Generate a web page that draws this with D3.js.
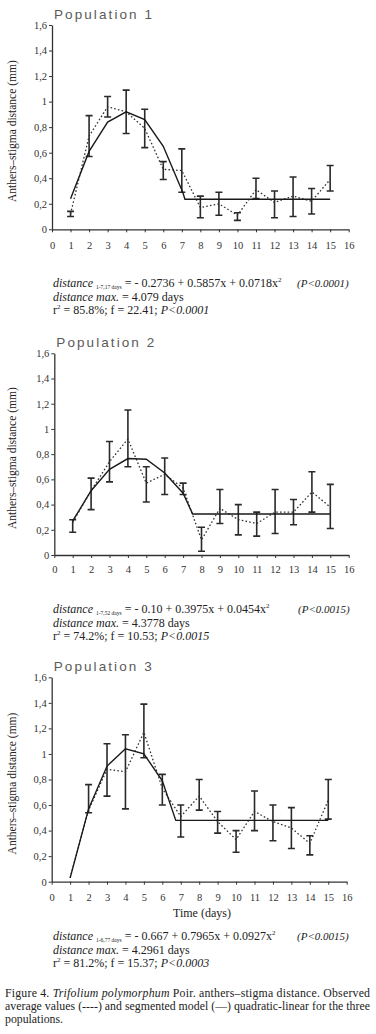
<!DOCTYPE html>
<html>
<head>
<meta charset="utf-8">
<script src="https://cdn.jsdelivr.net/npm/d3@7"></script>
<style>
  body { margin: 0; background: #fff; }
  svg { display: block; }
</style>
</head>
<body>
<div id="container"></div>
<script>
// ---- data ----
const days = [1, 2, 3, 4, 5, 6, 7, 8, 9, 10, 11, 12, 13, 14, 15];
const xTickValues = [0, 1, 2, 3, 4, 5, 6, 7, 8, 9, 10, 11, 12, 13, 14, 15, 16];
const yTickValues = [0, 0.2, 0.4, 0.6, 0.8, 1, 1.2, 1.4, 1.6];
const yTickLabels = ["0", "0,2", "0,4", "0,6", "0,8", "1", "1,2", "1,4", "1,6"];

// population 1 - observed means (dotted) and error bars
const p1Mean = [0.12, 0.73, 0.96, 0.92, 0.79, 0.47, 0.46, 0.17, 0.20, 0.11, 0.31, 0.21, 0.26, 0.22, 0.39];
const p1Low  = [0.10, 0.57, 0.88, 0.75, 0.64, 0.39, 0.29, 0.09, 0.11, 0.07, 0.24, 0.09, 0.10, 0.12, 0.30];
const p1High = [0.14, 0.89, 1.04, 1.09, 0.94, 0.53, 0.63, 0.26, 0.29, 0.13, 0.40, 0.30, 0.41, 0.32, 0.50];
// population 1 - segmented model (solid)
const p1ModelX = [1, 2, 3, 4, 5, 6, 7.05, 7.17, 15];
const p1ModelY = [0.24, 0.61, 0.84, 0.92, 0.86, 0.65, 0.29, 0.235, 0.235];

// population 2
const p2Mean = [0.26, 0.51, 0.74, 0.92, 0.57, 0.64, 0.53, 0.12, 0.37, 0.28, 0.25, 0.34, 0.34, 0.50, 0.38];
const p2Low  = [0.18, 0.36, 0.58, 0.70, 0.42, 0.48, 0.48, 0.03, 0.25, 0.16, 0.15, 0.17, 0.24, 0.34, 0.21];
const p2High = [0.28, 0.61, 0.90, 1.15, 0.70, 0.77, 0.57, 0.22, 0.52, 0.40, 0.34, 0.52, 0.44, 0.66, 0.56];
const p2ModelX = [1, 2, 3, 4, 5, 6, 7, 7.52, 15];
const p2ModelY = [0.27, 0.51, 0.68, 0.765, 0.76, 0.65, 0.49, 0.325, 0.325];

// population 3 (no bar on day 1)
const p3Mean = [0.03, 0.56, 0.88, 0.86, 1.17, 0.73, 0.51, 0.67, 0.47, 0.33, 0.55, 0.47, 0.42, 0.30, 0.64];
const p3Low  = [null, 0.54, 0.67, 0.57, 0.97, 0.60, 0.35, 0.56, 0.38, 0.23, 0.40, 0.32, 0.26, 0.21, 0.49];
const p3High = [null, 0.76, 1.08, 1.15, 1.39, 0.84, 0.60, 0.80, 0.55, 0.40, 0.71, 0.60, 0.58, 0.36, 0.80];
const p3ModelX = [1, 2, 3, 4, 5, 6, 6.73, 15];
const p3ModelY = [0.03, 0.57, 0.905, 1.04, 1.00, 0.79, 0.48, 0.48];

// ---- page ----
let w = 376;
let h = 1034;
const serif = "'Liberation Serif', 'Times New Roman', serif";

let svg = d3.select("#container")
    .append("svg")
    .attr("width", w)
    .attr("height", h)
;

function drawPanel(p) {
    let g = svg.append("g").classed("panel", true);

    let xScale = d3.scaleLinear().domain([0, 16]).range([p.left, p.right]);
    let yScale = d3.scaleLinear().domain([0, 1.6]).range([p.bottom, p.top]);

    // title, thin and spaced out like the original
    g.append("text")
        .attr("x", p.left + 2)
        .attr("y", p.top - 6)
        .attr("font-family", "'Liberation Sans', Arial, sans-serif")
        .attr("font-size", 13.5)
        .attr("fill", "#5a5a5a")
        .attr("textLength", 98)
        .attr("lengthAdjust", "spacing")
        .text(p.title);

    // y axis
    let yAxis = d3.axisLeft(yScale)
        .tickValues(yTickValues)
        .tickFormat((d, i) => yTickLabels[i])
        .tickSize(3)
        .tickSizeOuter(0)
        .tickPadding(2);
    let yAxisGroup = g.append("g")
        .attr("transform", `translate(${p.left},0)`)
        .call(yAxis);

    // x axis
    let xAxis = d3.axisBottom(xScale)
        .tickValues(xTickValues)
        .tickSize(3)
        .tickSizeOuter(0)
        .tickPadding(p.xPad);
    let xAxisGroup = g.append("g")
        .attr("transform", `translate(0,${p.bottom})`)
        .call(xAxis);

    [xAxisGroup, yAxisGroup].forEach(ax => {
        ax.select(".domain").attr("stroke", "#333").attr("stroke-width", 1.3);
        ax.selectAll(".tick line").attr("stroke", "#333").attr("stroke-width", 1);
        ax.selectAll("text")
            .attr("font-family", serif)
            .attr("font-size", 10.5)
            .attr("fill", "#333");
    });

    // y label
    g.append("text")
        .attr("transform", `translate(${p.labelX},${(p.top + p.bottom) / 2 + 4}) rotate(-90)`)
        .attr("text-anchor", "middle")
        .attr("font-family", serif)
        .attr("font-size", 11.5)
        .attr("fill", "#222")
        .text("Anthers\u2013stigma distance (mm)");

    // error bars
    let bars = days.map((d, i) => ({day: d, lo: p.low[i], hi: p.high[i]}))
        .filter(b => b.lo !== null);
    let barGroup = g.append("g").attr("stroke", "#2a2a2a").attr("stroke-width", 1.6);
    barGroup.selectAll(".err")
        .data(bars)
        .enter()
        .append("path")
        .classed("err", true)
        .attr("fill", "none")
        .attr("d", b => {
            let x = xScale(b.day), y1 = yScale(b.hi), y2 = yScale(b.lo);
            return `M${x - 3.5},${y1}H${x + 3.5}M${x},${y1}V${y2}M${x - 3.5},${y2}H${x + 3.5}`;
        });

    // observed means - dotted
    let meanLine = d3.line()
        .x((d, i) => xScale(days[i]))
        .y(d => yScale(d));
    g.append("path")
        .datum(p.mean)
        .attr("fill", "none")
        .attr("stroke", "#333")
        .attr("stroke-width", 1.3)
        .attr("stroke-dasharray", "1.6,2.2")
        .attr("d", meanLine);

    // segmented model - solid
    let modelLine = d3.line()
        .x(d => xScale(d[0]))
        .y(d => yScale(d[1]));
    g.append("path")
        .datum(p.modelX.map((x, i) => [x, p.modelY[i]]))
        .attr("fill", "none")
        .attr("stroke", "#1a1a1a")
        .attr("stroke-width", 1.4)
        .attr("d", modelLine);

    // equation block
    let eq = g.append("g")
        .attr("font-family", serif)
        .attr("font-size", 12)
        .attr("fill", "#222");
    let l1 = eq.append("text").attr("x", 53).attr("y", p.eqY);
    l1.append("tspan").attr("font-style", "italic").text("distance ");
    l1.append("tspan").attr("font-size", 5.5).attr("dy", 2).text(p.sub);
    l1.append("tspan").attr("dy", -2).text(" = " + p.eq);
    l1.append("tspan").attr("font-size", 7).attr("dy", -5).text("2");
    l1.append("tspan").attr("dy", 5).attr("x", p.pX).attr("font-style", "italic")
        .attr("font-size", 11).text(p.p1);

    let l2 = eq.append("text").attr("x", 53).attr("y", p.eqY + 13.5);
    l2.append("tspan").attr("font-style", "italic").text("distance max.");
    l2.append("tspan").text(p.maxTxt);

    let l3 = eq.append("text").attr("x", 53).attr("y", p.eqY + 27);
    l3.append("tspan").text("r");
    l3.append("tspan").attr("font-size", 7).attr("dy", -5).text("2");
    l3.append("tspan").attr("dy", 5).text(p.fitTxt);
    l3.append("tspan").attr("font-style", "italic").text(p.p2);
}

drawPanel({
    title: "Population 1", left: 52, right: 348.7, top: 25, bottom: 229.3, xPad: 9, labelX: 16,
    mean: p1Mean, low: p1Low, high: p1High, modelX: p1ModelX, modelY: p1ModelY,
    eqY: 287, sub: "1-7,17 days", eq: "- 0.2736 + 0.5857x + 0.0718x", pX: 297, p1: "(P<0.0001)",
    maxTxt: "  = 4.079 days", fitTxt: "  = 85.8%; f = 22.41; ", p2: "P<0.0001"
});

drawPanel({
    title: "Population 2", left: 54.3, right: 348.7, top: 353.3, bottom: 555, xPad: 8, labelX: 16,
    mean: p2Mean, low: p2Low, high: p2High, modelX: p2ModelX, modelY: p2ModelY,
    eqY: 613, sub: "1-7,52 days", eq: "- 0.10 + 0.3975x + 0.0454x", pX: 298, p1: "(P<0.0015)",
    maxTxt: " = 4.3778 days", fitTxt: "  = 74.2%; f = 10.53; ", p2: "P<0.0015"
});

drawPanel({
    title: "Population 3", left: 51.7, right: 346.7, top: 677.3, bottom: 881.7, xPad: 9, labelX: 16,
    mean: p3Mean, low: p3Low, high: p3High, modelX: p3ModelX, modelY: p3ModelY,
    eqY: 940, sub: "1-6,77 days", eq: "- 0.667 + 0.7965x + 0.0927x", pX: 297, p1: "(P<0.0015)",
    maxTxt: " = 4.2961 days", fitTxt: " = 81.2%; f = 15.37; ", p2: "P<0.0003"
});

// x axis title under the last panel
svg.append("text")
    .attr("x", 202)
    .attr("y", 917)
    .attr("text-anchor", "middle")
    .attr("font-family", serif)
    .attr("font-size", 12)
    .attr("fill", "#222")
    .text("Time (days)");

// caption
let cap = svg.append("g")
    .attr("font-family", serif)
    .attr("font-size", 11.8)
    .attr("fill", "#222");
let c1 = cap.append("text").attr("x", 5).attr("y", 997)
    .attr("textLength", 365).attr("lengthAdjust", "spacing");
c1.append("tspan").text("Figure 4. ");
c1.append("tspan").attr("font-style", "italic").text("Trifolium polymorphum");
c1.append("tspan").text(" Poir. anthers\u2013stigma distance. Observed");
cap.append("text").attr("x", 5).attr("y", 1010)
    .attr("textLength", 365).attr("lengthAdjust", "spacing")
    .text("average values (----) and segmented model (\u2014) quadratic-linear for the three");
cap.append("text").attr("x", 5).attr("y", 1023).text("populations.");
</script>
</body>
</html>
